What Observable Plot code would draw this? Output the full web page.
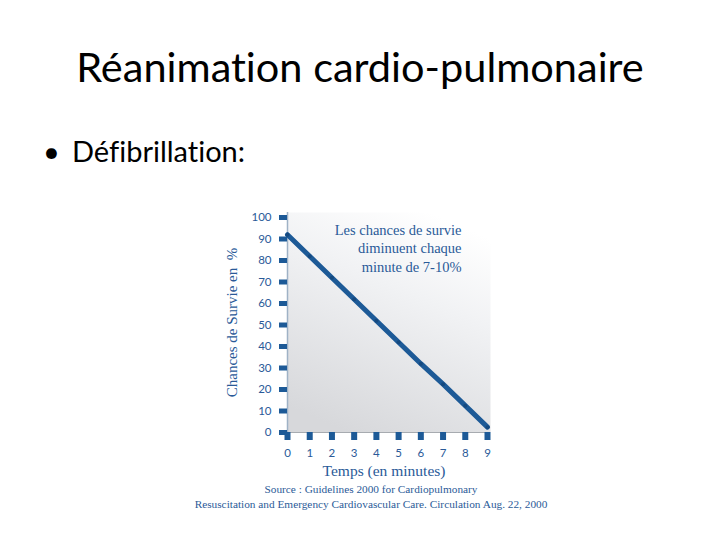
<!DOCTYPE html>
<html>
<head>
<meta charset="utf-8">
<script src="https://cdn.jsdelivr.net/npm/d3@7"></script>
<script src="https://cdn.jsdelivr.net/npm/@observablehq/plot@0.6"></script>
<style>
  html, body { margin: 0; padding: 0; background: #fff; }
  #page { position: relative; width: 720px; height: 540px; overflow: hidden; }
  #title { position: absolute; left: 0; width: 720px; top: 46px; text-align: center;
    font-family: Lato, "Open Sans", sans-serif; font-size: 41.5px; color: #000; line-height: 1;
    font-variant-ligatures: none; }
  #bullet { position: absolute; left: 43px; top: 136px; font-family: Lato, "Open Sans", sans-serif;
    font-size: 29px; color: #000; line-height: 1; font-variant-ligatures: none; }
  #bullet .dot { display: inline-block; width: 29px; }
  #chart { position: absolute; left: 0; top: 0; }
  .src { position: absolute; left: 0; width: 742px; text-align: center;
    font-family: "Liberation Serif", "DejaVu Serif", serif; font-size: 11.3px; color: #2b5b98; line-height: 1; }
</style>
</head>
<body>
<div id="page">
  <div id="chart"></div>
  <div id="title">Réanimation cardio-pulmonaire</div>
  <div id="bullet"><span class="dot">•</span>Défibrillation:</div>
  <div class="src" style="top:484px">Source : Guidelines 2000 for Cardiopulmonary</div>
  <div class="src" style="top:499px">Resuscitation and Emergency Cardiovascular Care. Circulation Aug. 22, 2000</div>
</div>
<script>
// Data
const minutes = [0, 1, 2, 3, 4, 5, 6, 7, 8, 9];
const survival = [92, 82, 72, 62, 52, 42, 32, 22.5, 12.5, 2.5];
const xTicks = [0, 1, 2, 3, 4, 5, 6, 7, 8, 9];
const yTicks = [0, 10, 20, 30, 40, 50, 60, 70, 80, 90, 100];
const annotation = ["Les chances de survie", "diminuent chaque", "minute de 7-10%"];
const xLabel = "Temps (en minutes)";
const yLabel = "Chances de Survie en  %";

const data = minutes.map((m, i) => ({minute: m, value: survival[i]}));

const blue = "#1d5a97";
const textBlue = "#2a5a98";
const serif = "Liberation Serif, DejaVu Serif, serif";
const sans = "Lato, Open Sans, sans-serif";

const chart = Plot.plot({
  width: 720,
  height: 540,
  marginLeft: 287,
  marginRight: 230,
  marginTop: 212,
  marginBottom: 108,
  style: {background: "transparent", overflow: "visible"},
  x: {domain: [0, 9], range: [287, 487]},
  y: {domain: [0, 100], range: [432, 217]},
  marks: [
    Plot.frame({fill: "url(#bgGrad)", stroke: "none"}),
    Plot.ruleX([0], {stroke: "#9fb2c6", strokeWidth: 1.5}),
    Plot.ruleY([0], {stroke: "#a7abb0", strokeWidth: 1.2}),
    Plot.axisY({ticks: yTicks, tickSize: 8, tickPadding: 8, strokeWidth: 5, stroke: blue,
      color: textBlue, fontSize: 11.5, fontFamily: sans, label: null}),
    Plot.axisY({ticks: [], tickSize: 0, label: yLabel, labelAnchor: "center", labelArrow: "none",
      labelOffset: 61, fontSize: 15, fontFamily: serif, color: textBlue}),
    Plot.axisX({ticks: xTicks, tickSize: 8, tickPadding: 8, strokeWidth: 6, stroke: blue,
      color: textBlue, fontSize: 11.5, fontFamily: sans, label: null}),
    Plot.text([xLabel], {text: (d) => d, frameAnchor: "bottom", dx: -5, dy: 43,
      fontFamily: serif, fontSize: 15.5, fill: textBlue}),
    Plot.line(data, {x: "minute", y: "value", stroke: blue, strokeWidth: 5, strokeLinecap: "round"}),
    Plot.dot(data, {x: "minute", y: "value", r: 2, fill: "#15497f"}),
    Plot.text([annotation.join("\n")], {text: (d) => d, frameAnchor: "top-right", dx: -29, dy: 10,
      lineAnchor: "top", lineHeight: 1.25, fontFamily: serif, fontSize: 14.5, fill: textBlue, textAnchor: "end"})
  ]
});

const svg = d3.select(chart.tagName.toLowerCase() === "svg" ? chart : chart.querySelector("svg"));
const defs = svg.insert("defs", ":first-child");
const g = defs.append("linearGradient").attr("id", "bgGrad")
  .attr("x1", "0.7").attr("y1", "0").attr("x2", "0.3").attr("y2", "1");
g.append("stop").attr("offset", "0").attr("stop-color", "#ffffff");
g.append("stop").attr("offset", "0.35").attr("stop-color", "#f1f2f4");
g.append("stop").attr("offset", "1").attr("stop-color", "#d7d8db");

document.getElementById("chart").appendChild(chart);
</script>
</body>
</html>
